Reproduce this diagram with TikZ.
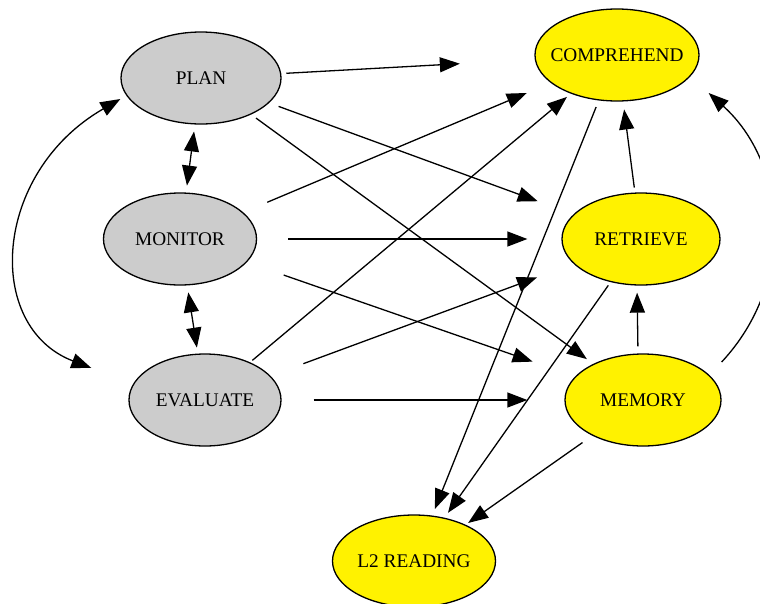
\documentclass[tikz,border=0pt]{standalone}
\usepackage{fontspec}
\setmainfont{Liberation Serif}
\usepackage{tikz}
\usetikzlibrary{shapes,arrows.meta,positioning}
\tikzstyle{line} = [draw, line width=1.3pt, -{Triangle[length=20pt,width=15pt]}]
\tikzstyle{bline} = [draw, line width=1.3pt, {Triangle[length=20pt,width=15pt]}-{Triangle[length=20pt,width=15pt]}]
\tikzstyle{meta} = [ellipse, draw, line width=1.3pt, fill=black!20, inner sep=0pt, minimum width=153pt, minimum height=92pt, font=\fontsize{19.3}{21}\selectfont]
\tikzstyle{cogn} = [ellipse, draw, line width=1.3pt, fill=yellow, inner sep=0pt, minimum width=158pt, minimum height=92pt, font=\fontsize{19.3}{21}\selectfont]
\newcommand{\lbl}[1]{\makebox[0pt]{#1}}

\begin{document}
\begin{tikzpicture}[x=1pt, y=1pt]
			\useasboundingbox (0,0) rectangle (760,-603);
			\node [meta, minimum width=160pt] (plan) at (201,-78) {\lbl{PLAN}};
			\node [meta, below of=plan, node distance=161pt, xshift=-21pt] (monitor) {\lbl{MONITOR}};
			\node [meta, below of=monitor, node distance=161pt, xshift=25pt, minimum width=152pt] (evaluate) {\lbl{EVALUATE}};
			
			\node [cogn, right of=monitor, node distance=461pt] (retrieve) {\lbl{RETRIEVE}};
			\node [cogn, right of=evaluate, node distance=438pt, minimum width=156pt] (memory) {\lbl{MEMORY}};
			\node [cogn, above of=retrieve, node distance=184pt, xshift=-24pt, minimum width=164pt] (comprehend) {\lbl{COMPREHEND}};
			\node [cogn, below of=evaluate, node distance=161pt, xshift=209pt, minimum width=163pt] (reading) {\lbl{L2 READING}};
			
			\draw [line, shorten <=5pt, shorten >=75pt] (plan) -- (comprehend);
			\draw [line, shorten <=10pt, shorten >=38pt] (plan) -- (retrieve);
			\draw [line, shorten <=6pt, shorten >=8pt] (plan) -- (memory);
			\draw [bline, shorten <=7pt, shorten >=7pt] (plan) -- (monitor);
			\draw [bline, shorten <=7pt, shorten >=6pt] (monitor) -- (evaluate);
			\draw [bline] ([yshift=-21pt]plan.west) .. controls +(210:148) and +(159:115) .. ([xshift=-37pt,yshift=32pt]evaluate.west);
			
			\draw [line, shorten <=26pt, shorten >=26pt] (monitor) -- (comprehend);
			\draw [line, shorten <=31pt, shorten >=34pt] (monitor) -- (retrieve);
			\draw [line, shorten <=39pt, shorten >=45pt] (monitor) -- (memory);
			\draw [line, shorten <=3pt, shorten >=5pt] (evaluate) -- (comprehend);
			\draw [line, shorten <=35pt, shorten >=39pt] (evaluate) -- (retrieve);
			\draw [line, shorten <=32pt, shorten >=37pt] (evaluate) -- (memory);
			
			\draw [line, shorten <=7pt, shorten >=7pt] (comprehend) -- (reading);
			\draw [line, shorten <=5pt, shorten >=8pt] (retrieve) -- (comprehend);
			\draw [line, shorten <=4pt, shorten >=6pt] (retrieve) -- (reading);
			\draw [line, shorten <=7pt, shorten >=7pt] ([xshift=-5pt]memory.north) -- ([xshift=-4pt]retrieve.south);
			\draw [line, shorten <=12pt, shorten >=3pt] (memory) -- (reading);
			\draw [line] ([yshift=38pt]memory.east) .. controls +(47:110) and +(-42:105) .. ([xshift=9pt,yshift=-38pt]comprehend.east);
		\end{tikzpicture}
\end{document}
